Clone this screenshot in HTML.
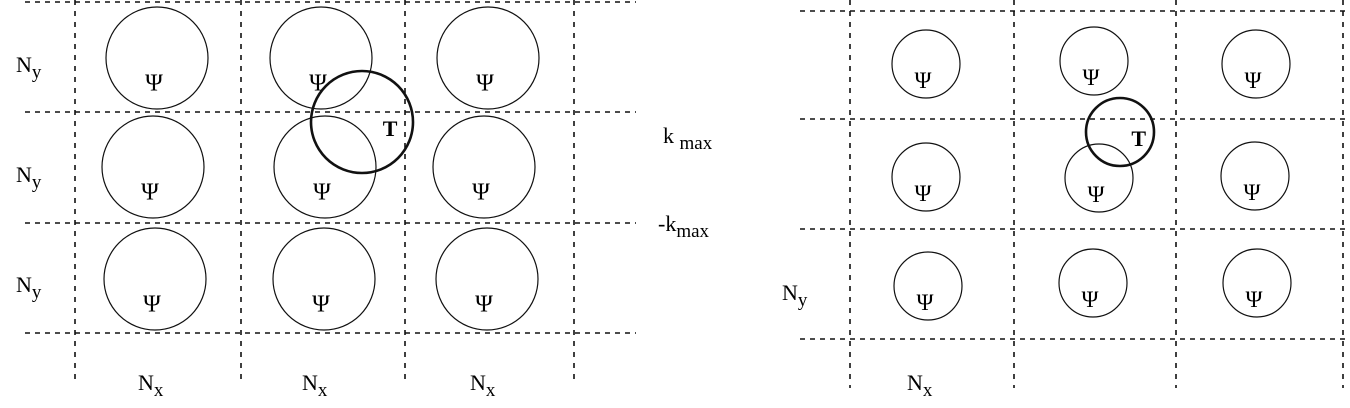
<!DOCTYPE html>
<html><head><meta charset="utf-8"><style>
html,body{margin:0;padding:0;background:#fff;}
svg{display:block;font-family:"Liberation Serif",serif;}
</style></head><body>
<svg id="fig" width="1350" height="408" viewBox="0 0 1350 408"></svg>
<script>
const NS="http://www.w3.org/2000/svg";
const svg=document.getElementById('fig');
// Left panel
const leftV=[75,241,405,574];
const leftH=[2,112,223,333];
const leftCircles=[[157,58],[321,58],[488,58],[153,167],[325,167],[484,167],[155,279],[324,279],[487,279]];
const leftT=[362,122];
// Right panel
const rightV=[850,1014,1176,1343];
const rightH=[11,119,229,339];
const rightCircles=[[926,64],[1094,61],[1256,64],[926,177],[1099,178],[1255,176],[928,286],[1093,283],[1257,283]];
const rightT=[1120,132];

function el(tag,attrs,parent){const e=document.createElementNS(NS,tag);for(const k in attrs)e.setAttribute(k,attrs[k]);(parent||svg).appendChild(e);return e;}

function panel(name,V,H,xs,ys,xe,ye,circ,r,T,fs){
  const g=el('g',{});
  
  
  V.forEach(x=>{const l=el('line',{x1:x,y1:ys,x2:x,y2:ye,stroke:'#111','stroke-width':1.6,'stroke-dasharray':'5 6'},g);
    
    });
  H.forEach(y=>{const l=el('line',{x1:xs,y1:y,x2:xe,y2:y,stroke:'#111','stroke-width':1.6,'stroke-dasharray':'5 5'},g);
    
    });
  circ.forEach(([cx,cy])=>{const c=el('circle',{cx:cx,cy:cy,r:r,fill:'none',stroke:'#111','stroke-width':1.2},g);
    
    
    const t=el('text',{x:cx-3,y:cy+r*0.5+7,'font-size':fs,'text-anchor':'middle'},g);t.textContent='Ψ';
    
    });
  const tc=el('circle',{cx:T[0],cy:T[1],r:r,fill:'none',stroke:'#111','stroke-width':2.6},g);
  
  
  const tt=el('text',{x:T[0]+r*0.55,y:T[1]+14,'font-size':22,'font-weight':'bold','text-anchor':'middle'},g);tt.textContent='T';
  
  
  return g;
}
panel('left-panel',leftV,leftH,25,0,636,384,leftCircles,51,leftT,24);
panel('right-panel',rightV,rightH,800,0,1350,388,rightCircles,34,rightT,23);

function sub(x,y,main,s,name){
  const t=el('text',{x:x,y:y,'font-size':22});
  
  
  const a=el('tspan',{},t);a.textContent=main;
  const b=el('tspan',{dy:6,'font-size':19},t);b.textContent=s;
  return t;
}
[72,182,292].forEach(y=>sub(16,y,'N','y','ny-label'));
[158,322,490].forEach(x=>sub(x-20,390,'N','x','nx-label'));
sub(663,143,'k ','max','kmax-label');
sub(658,231,'-k','max','neg-kmax-label');
sub(782,300,'N','y','ny-label');
sub(907,390,'N','x','nx-label');
</script>
</body></html>
